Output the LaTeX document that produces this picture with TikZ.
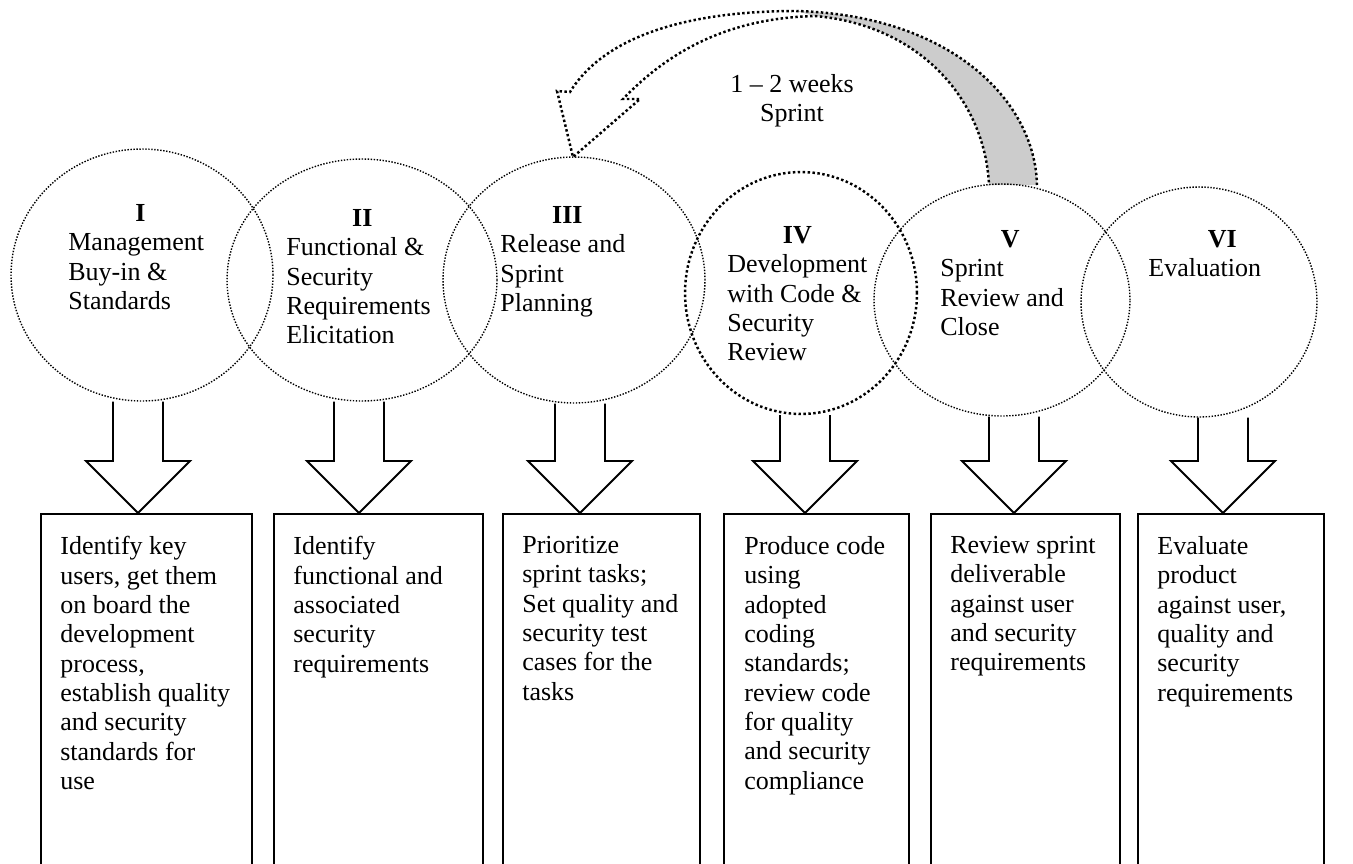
\documentclass[tikz,border=0pt]{standalone}
\usepackage{fontspec}
\setmainfont{Liberation Serif}
\usepackage{tikz}
\usetikzlibrary{
  shapes.geometric,
  calc
}
\definecolor{SprintGray}{RGB}{204, 204, 204}

% hollow down arrow from a phase circle to a task box
\newcommand{\phasearrow}[2]{%
  \draw[line width=1.1pt, line join=miter] let \p1=(#1), \p2=(#2) in
    (\x2-0.5cm,\y1) -- (\x2-0.5cm,\y2+1.04cm) -- (\x2-1.04cm,\y2+1.04cm) -- (\x2,\y2)
    -- (\x2+1.04cm,\y2+1.04cm) -- (\x2+0.5cm,\y2+1.04cm) -- (\x2+0.5cm,\y1);
}

\begin{document}
\begin{tikzpicture}[x=0.02cm, y=-0.02cm,
    phase/.style={ellipse, draw, line width=0.8pt, dash pattern=on 0.8pt off 0.9pt, inner sep=0pt},
    boldphase/.style={phase, line width=1.4pt, dash pattern=on 1.4pt off 1.4pt},
    phasetext/.style={anchor=north west, inner sep=0pt, align=flush left, font=\fontsize{14.8}{16.7}\selectfont},
    taskbox/.style={draw, line width=1.1pt, anchor=north west, inner sep=0pt, minimum height=7.34cm},
    tasktext/.style={anchor=north west, inner sep=0pt, align=flush left, font=\fontsize{14.8}{16.7}\selectfont}]
  \clip (0,0) rectangle (1353,863);

  % sprint loop arrow
  \fill[SprintGray] (1037,185) .. controls (1035,100) and (950,15) .. (796,11)
    -- (815,16) .. controls (920,25) and (985,100) .. (989,185) -- cycle;
  \draw[line width=1.4pt, dash pattern=on 1.4pt off 1.4pt] (1037,185) .. controls (1035,100) and (950,15) .. (796,11)
    .. controls (690,11) and (605,35) .. (570,92) -- (557,91) -- (573,157) -- (640,99) -- (623,99)
    .. controls (670,50) and (730,18) .. (815,16) .. controls (920,25) and (985,100) .. (989,185);
  \node[font=\fontsize{14.8}{16.7}\selectfont, align=center] (sprintlbl) at (792,101) {1 -- 2 weeks\\Sprint};

  % phases
  \node[phase, minimum width=5.24cm, minimum height=5.04cm] (c1) at (142,275) {};
  \node[phase, minimum width=5.40cm, minimum height=4.84cm] (c2) at (362,280) {};
  \node[phase, minimum width=5.24cm, minimum height=4.92cm] (c3) at (574,280) {};
  \node[boldphase, minimum width=4.64cm, minimum height=4.84cm] (c4) at (801,293) {};
  \node[phase, minimum width=5.12cm, minimum height=4.64cm] (c5) at (1002,300) {};
  \node[phase, minimum width=4.72cm, minimum height=4.60cm] (c6) at (1199,302) {};

  \node[phasetext, text width=2.88cm] (p1) at (68,204) {\makebox[\linewidth]{\textbf{I}}\\Management\\Buy-in \&\\Standards};
  \node[phasetext, text width=3.04cm] (p2) at (286,209) {\makebox[\linewidth]{\textbf{II}}\\Functional \&\\Security\\Requirements\\Elicitation};
  \node[phasetext, text width=2.68cm] (p3) at (500,206) {\makebox[\linewidth]{\textbf{III}}\\Release and\\Sprint\\Planning};
  \node[phasetext, text width=2.80cm] (p4) at (727,226) {\makebox[\linewidth]{\textbf{IV}}\\Development\\with Code \&\\Security\\Review};
  \node[phasetext, text width=2.80cm] (p5) at (940,230) {\makebox[\linewidth]{\textbf{V}}\\Sprint\\Review and\\Close};
  \node[phasetext, text width=2.96cm] (p6) at (1148,230) {\makebox[\linewidth]{\textbf{VI}}\\Evaluation};

  % tasks
  \node[taskbox, minimum width=4.22cm] (b1) at (40,513) {};
  \node[taskbox, minimum width=4.18cm] (b2) at (273,513) {};
  \node[taskbox, minimum width=3.94cm] (b3) at (502,513) {};
  \node[taskbox, minimum width=3.70cm] (b4) at (723,513) {};
  \node[taskbox, minimum width=3.78cm] (b5) at (930,513) {};
  \node[taskbox, minimum width=3.72cm] (b6) at (1137,513) {};

  \node[tasktext] (t1) at ([shift={(20,23)}]b1.north west) {Identify key\\users, get them\\on board the\\development\\process,\\establish quality\\and security\\standards for\\use};
  \node[tasktext] (t2) at ([shift={(20,23)}]b2.north west) {Identify\\functional and\\associated\\security\\requirements};
  \node[tasktext] (t3) at ([shift={(20,23)}]b3.north west) {Prioritize\\sprint tasks;\\Set quality and\\security test\\cases for the\\tasks};
  \node[tasktext] (t4) at ([shift={(21,23)}]b4.north west) {Produce code\\using\\adopted\\coding\\standards;\\review code\\for quality\\and security\\compliance};
  \node[tasktext] (t5) at ([shift={(20,23)}]b5.north west) {Review sprint\\deliverable\\against user\\and security\\requirements};
  \node[tasktext] (t6) at ([shift={(20,23)}]b6.north west) {Evaluate\\product\\against user,\\quality and\\security\\requirements};

  % arrows down
  \coordinate (tip1) at (138,513);
  \coordinate (tip2) at (359,513);
  \coordinate (tip3) at (580,513);
  \coordinate (tip4) at (805,513);
  \coordinate (tip5) at (1014,513);
  \coordinate (tip6) at (1223,513);
  \phasearrow{c1.south}{tip1}
  \phasearrow{c2.south}{tip2}
  \phasearrow{c3.south}{tip3}
  \phasearrow{c4.south}{tip4}
  \phasearrow{c5.south}{tip5}
  \phasearrow{c6.south}{tip6}
\end{tikzpicture}
\end{document}
